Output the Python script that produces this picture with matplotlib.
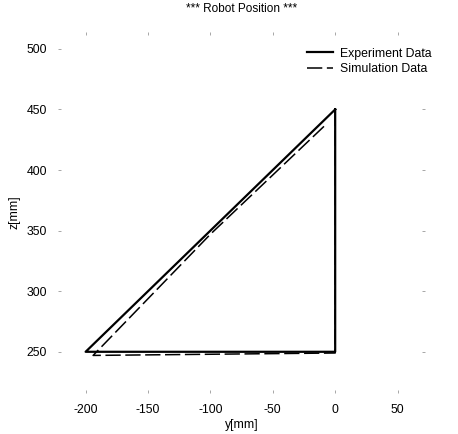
import matplotlib
matplotlib.use("Agg")
import matplotlib.pyplot as plt

plt.rcParams["font.family"] = ["Liberation Sans", "DejaVu Sans"]
plt.rcParams["axes.unicode_minus"] = False

# Robot position paths, y / z in mm
exp_y = [0, 0, -200, -100, 0]
exp_z = [450, 250, 250, 350, 450]

sim_y = [0, 0, -194, -100, -8]
sim_z = [449, 249, 247, 347, 437]

x_ticks = [-200, -150, -100, -50, 0, 50]
y_ticks = [250, 300, 350, 400, 450, 500]

fig = plt.figure(figsize=(4.58, 4.34), dpi=100)
ax = fig.add_axes([0.127, 0.0945, 0.801, 0.832])

ax.plot(exp_y, exp_z, color="black", linewidth=1.6, label="Experiment Data")
ax.plot(sim_y, sim_z, color="black", linewidth=1.1, dashes=(10, 3),
        label="Simulation Data")

ax.set_xlim(-222, 72)
ax.set_ylim(216, 514)
ax.set_xticks(x_ticks)
ax.set_yticks(y_ticks)

for sp in ax.spines.values():
    sp.set_visible(False)
ax.tick_params(direction="in", length=2, width=0.6, color="#999999",
               top=True, right=True, labelsize=8.8, pad=8)

ax.set_xlabel("y[mm]", fontsize=8.8, labelpad=2)
ax.set_ylabel("z[mm]", fontsize=8.8, labelpad=4)
ax.set_title("*** Robot Position ***", fontsize=8.5, pad=14)

leg = ax.legend(loc="upper right", frameon=False, fontsize=8.8,
                handlelength=2.2, handletextpad=0.5, labelspacing=0.3,
                borderaxespad=0.3, bbox_to_anchor=(1.04, 0.98))

fig.savefig("out.png", dpi=100)
